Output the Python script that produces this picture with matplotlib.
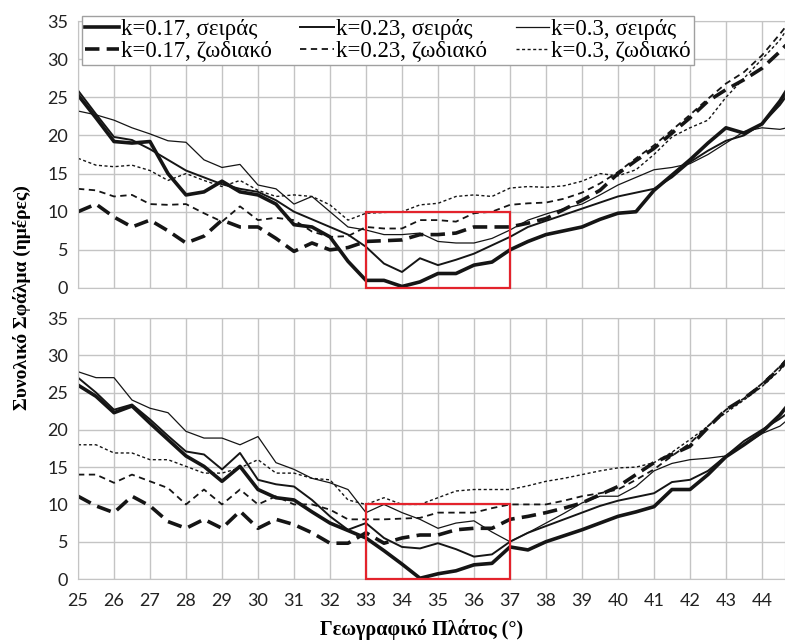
import matplotlib
matplotlib.use('Agg')
import matplotlib.pyplot as plt
from matplotlib.patches import Rectangle

# latitude grid (degrees), the last point is the right edge of the plot
lat = [25, 25.5, 26, 26.5, 27, 27.5, 28, 28.5, 29, 29.5,
       30, 30.5, 31, 31.5, 32, 32.5, 33, 33.5, 34, 34.5,
       35, 35.5, 36, 36.5, 37, 37.5, 38, 38.5, 39, 39.5,
       40, 40.5, 41, 41.5, 42, 42.5, 43, 43.5, 44, 44.5, 44.7]

# ---- top panel ----
top_s017 = [25.3, 22.3, 19.2, 19.0, 19.2, 15.0, 12.2, 12.6, 14.0, 12.6,
            12.2, 11.0, 8.3, 8.0, 6.7, 3.5, 1.0, 1.0, 0.2, 0.8,
            1.9, 1.9, 3.0, 3.4, 5.0, 6.1, 7.0, 7.5, 8.0, 9.0,
            9.8, 10.0, 12.8, 14.8, 16.8, 19.0, 21.0, 20.3, 21.5, 24.5, 26.0]
top_s023 = [25.9, 22.8, 19.8, 19.4, 18.2, 16.8, 15.4, 14.5, 13.6, 13.0,
            12.6, 11.5, 10.0, 9.0, 8.0, 7.0, 5.4, 3.2, 2.1, 3.9,
            3.0, 3.7, 4.5, 5.6, 6.7, 8.0, 8.8, 9.6, 10.4, 11.2,
            12.0, 12.5, 13.0, 14.5, 16.5, 18.0, 19.3, 20.0, 21.5, 24.0, 25.3]
top_s03 = [23.2, 22.7, 22.0, 21.0, 20.2, 19.3, 19.1, 16.8, 15.8, 16.2,
           13.5, 13.0, 11.0, 12.0, 10.0, 8.0, 7.6, 7.0, 7.0, 7.2,
           6.1, 5.9, 5.9, 6.5, 7.6, 8.9, 9.7, 10.4, 11.0, 12.2,
           13.5, 14.5, 15.5, 15.8, 16.3, 17.5, 19.0, 20.5, 21.0, 20.8, 21.0]
top_z017 = [10.0, 11.0, 9.3, 8.0, 8.9, 7.5, 5.9, 6.8, 8.9, 8.0,
            8.0, 6.5, 4.8, 5.9, 5.0, 5.3, 6.1, 6.2, 6.3, 7.0,
            7.0, 7.2, 8.0, 8.0, 8.0, 8.5, 9.1, 10.3, 11.5, 12.8,
            15.0, 16.7, 18.3, 20.3, 22.3, 24.5, 26.0, 27.3, 28.8, 31.0, 32.0]
top_z023 = [13.0, 12.8, 12.0, 12.2, 11.0, 10.9, 11.0, 9.8, 8.7, 10.7,
            8.9, 9.2, 8.9, 7.4, 6.7, 6.8, 8.0, 7.8, 7.8, 8.9,
            8.9, 8.7, 9.8, 10.0, 10.9, 11.1, 11.2, 11.7, 12.5, 13.7,
            15.2, 17.0, 18.7, 20.7, 22.7, 24.8, 26.8, 28.3, 30.5, 33.3, 34.5]
top_z03 = [17.0, 16.1, 15.9, 16.1, 15.4, 14.1, 15.0, 14.1, 13.3, 14.1,
           12.8, 12.0, 12.2, 12.0, 10.9, 8.9, 9.8, 9.9, 10.0, 10.9,
           11.1, 12.0, 12.2, 12.0, 13.1, 13.3, 13.2, 13.4, 14.0, 15.0,
           14.7, 15.5, 17.5, 19.8, 21.0, 22.0, 25.0, 27.5, 30.0, 32.5, 34.0]

# ---- bottom panel ----
bot_s017 = [26.0, 24.5, 22.3, 23.2, 20.9, 18.7, 16.5, 15.1, 13.1, 15.1,
            12.0, 10.9, 10.6, 9.0, 7.5, 6.5, 5.5, 3.8, 2.0, 0.1,
            0.7, 1.1, 1.9, 2.1, 4.3, 3.9, 5.0, 5.8, 6.6, 7.5,
            8.4, 9.0, 9.7, 12.0, 12.0, 14.0, 16.4, 18.0, 19.7, 22.0, 23.2]
bot_s023 = [27.0, 25.0, 22.7, 23.4, 21.4, 19.2, 17.1, 16.7, 14.7, 16.9,
            13.3, 12.7, 12.4, 10.6, 8.4, 6.6, 7.5, 5.5, 4.3, 4.1,
            4.8, 4.0, 3.0, 3.3, 5.0, 6.2, 7.1, 8.0, 8.9, 9.8,
            10.5, 11.0, 11.5, 13.0, 13.3, 14.5, 16.5, 18.5, 20.0, 21.5, 22.2]
bot_s03 = [27.8, 27.0, 27.0, 24.0, 22.9, 22.3, 19.8, 18.9, 18.9, 18.0,
           19.1, 15.6, 14.7, 13.5, 12.9, 12.0, 8.9, 10.0, 8.9, 8.0,
           6.8, 7.5, 7.8, 6.3, 5.0, 6.2, 7.5, 8.8, 10.2, 11.1,
           11.1, 12.4, 14.5, 15.5, 16.0, 16.2, 16.5, 18.0, 19.5, 20.5, 21.3]
bot_z017 = [11.1, 9.8, 8.9, 11.1, 9.8, 7.7, 6.8, 8.0, 6.8, 9.1,
            6.8, 8.0, 7.3, 6.2, 4.8, 4.8, 6.2, 4.8, 5.5, 5.9,
            5.9, 6.6, 6.8, 6.8, 8.0, 8.4, 8.9, 9.5, 10.2, 11.3,
            12.4, 14.0, 15.6, 16.7, 17.8, 20.3, 22.7, 24.2, 26.0, 28.3, 29.4]
bot_z023 = [14.0, 14.0, 12.9, 14.0, 13.1, 12.2, 10.0, 12.0, 10.0, 12.0,
            10.0, 11.1, 10.0, 10.0, 9.3, 8.0, 8.0, 8.0, 8.1, 8.2,
            8.9, 8.9, 8.9, 9.5, 10.0, 10.0, 10.0, 10.5, 11.1, 11.5,
            12.0, 13.3, 14.7, 16.5, 18.2, 20.5, 22.7, 24.2, 26.2, 28.5, 29.6]
bot_z03 = [18.0, 18.0, 16.9, 16.9, 16.0, 16.0, 15.1, 14.2, 14.2, 14.9,
           16.0, 14.2, 14.2, 13.5, 13.3, 10.6, 10.0, 10.9, 10.0, 10.0,
           10.9, 11.8, 12.0, 12.0, 12.0, 12.5, 13.1, 13.5, 14.0, 14.5,
           14.9, 15.0, 15.6, 17.0, 18.7, 20.5, 22.3, 24.0, 25.8, 28.0, 29.0]

labels = ['k=0.17, σειράς', 'k=0.17, ζωδιακό',
          'k=0.23, σειράς', 'k=0.23, ζωδιακό',
          'k=0.3, σειράς', 'k=0.3, ζωδιακό']
xticks = list(range(25, 45))
yticks = [0, 5, 10, 15, 20, 25, 30, 35]
box = (33, 0, 4, 10)  # highlighted region: x0, y0, width, height

ink = '#151515'
grid_c = '#c4c4c4'
styles = [dict(lw=2.6, ls='-'),
          dict(lw=2.6, ls=(0, (4, 2))),
          dict(lw=1.4, ls='-'),
          dict(lw=1.3, ls=(0, (3.5, 2.5))),
          dict(lw=0.9, ls='-'),
          dict(lw=1.0, ls=(0, (2.2, 1.8)))]

fig = plt.figure(figsize=(7.85, 6.41), dpi=100)
W, H = 785, 641
ax_top = fig.add_axes([78 / W, 1 - 288 / H, 1 - 78 / W, 267 / H])
ax_bot = fig.add_axes([78 / W, 1 - 579 / H, 1 - 78 / W, 261 / H])

panels = [(ax_top, [top_s017, top_z017, top_s023, top_z023, top_s03, top_z03]),
          (ax_bot, [bot_s017, bot_z017, bot_s023, bot_z023, bot_s03, bot_z03])]

handles = []
for ax, series in panels:
    ax.set_xlim(25, 44.64)
    ax.set_ylim(0, 35)
    ax.set_xticks(xticks)
    ax.set_yticks(yticks)
    ax.grid(True, color=grid_c, lw=1.0)
    ax.set_axisbelow(True)
    for sp in ax.spines.values():
        sp.set_color(grid_c)
    ax.tick_params(length=0, labelsize=13, pad=7)
    for lab in ax.get_yticklabels() + ax.get_xticklabels():
        lab.set_family('Lato')
        lab.set_color('#222222')
    hs = []
    for vals, st, lb in zip(series, styles, labels):
        h, = ax.plot(lat, vals, color=ink, label=lb, solid_joinstyle='round',
                     dash_capstyle='butt', **st)
        hs.append(h)
    if not handles:
        handles = hs
    ax.add_patch(Rectangle(box[:2], box[2], box[3], fill=False,
                           edgecolor='#e3232c', lw=1.6, zorder=5, clip_on=False))

ax_top.tick_params(labelbottom=False)
ax_bot.tick_params(axis='x', pad=10)

leg = ax_top.legend(handles=handles, ncol=3, loc='upper left',
                    bbox_to_anchor=(82 / W, 1 - 16 / H),
                    bbox_transform=fig.transFigure, borderaxespad=0,
                    fancybox=False, framealpha=1, edgecolor='#a0a0a0',
                    handlelength=1.45, handletextpad=0.1, columnspacing=1.25,
                    labelspacing=0.0, borderpad=0.15,
                    prop={'family': 'Liberation Serif', 'size': 16.5})
leg.get_frame().set_linewidth(1.0)

fig.text(22 / W, 1 - 298 / H, 'Συνολικό Σφάλμα (ημέρες)', rotation=90,
         ha='center', va='center', family='Liberation Serif',
         weight='bold', size=14)
fig.text(422 / W, 1 - 629 / H, 'Γεωγραφικό Πλάτος (°)', ha='center',
         va='center', family='Liberation Serif', weight='bold', size=14.5)

fig.savefig('out.png', dpi=100)
